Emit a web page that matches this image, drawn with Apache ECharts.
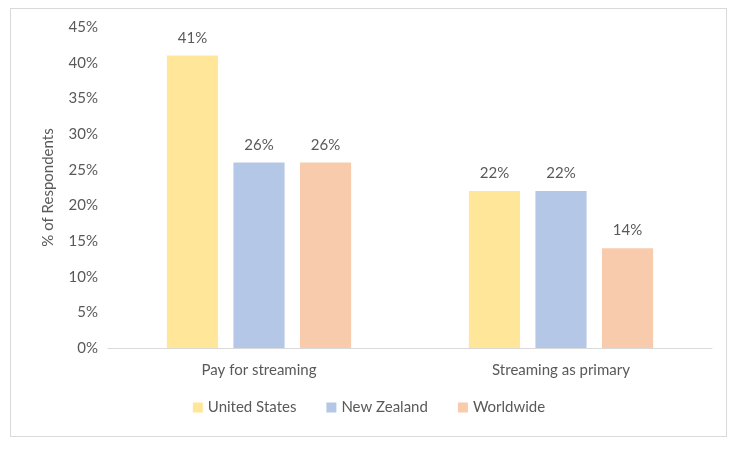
<!DOCTYPE html>
<html><head><meta charset="utf-8">
<script src="https://cdn.jsdelivr.net/npm/echarts@6/dist/echarts.min.js"></script>
<style>
html,body{margin:0;padding:0;background:#fff;}
#frame{position:absolute;left:10px;top:8px;width:717px;height:429px;border:1px solid #d9d9d9;box-sizing:border-box;}
#chart{position:absolute;left:0;top:0;width:738px;height:450px;}
</style></head>
<body><div id="frame"></div><div id="chart"></div>
<script>
const categories = ['Pay for streaming', 'Streaming as primary'];
const unitedStates = [41, 22];
const newZealand = [26, 22];
const worldwide = [26, 14];
const seriesNames = ['United States', 'New Zealand', 'Worldwide'];
const colors = ['#FFE699', '#B4C7E7', '#F8CBAD'];
const FONT = 'Lato';
const FS = 15;
const chart = echarts.init(document.getElementById('chart'));
const lbl = {show:true, position:'top', distance:10, formatter:p=>p.value+'%', color:'#595959', fontSize:FS, fontFamily:FONT};
chart.setOption({
  animation:false,
  color: colors,
  grid:{left:108, right:26, top:27, bottom:102},
  legend:{bottom:30, left:'center', itemWidth:10, itemHeight:10, itemGap:30, icon:'rect',
    textStyle:{color:'#595959', fontSize:FS, fontFamily:FONT}},
  xAxis:{type:'category', data:categories,
    axisLine:{lineStyle:{color:'#d9d9d9'}}, axisTick:{show:false},
    axisLabel:{color:'#595959', fontSize:FS, fontFamily:FONT, margin:15}},
  yAxis:{type:'value', min:0, max:45, interval:5,
    name:'% of Respondents', nameLocation:'middle', nameGap:52, nameRotate:90,
    nameTextStyle:{color:'#595959', fontSize:FS, fontFamily:FONT},
    splitLine:{show:false}, axisLine:{show:false}, axisTick:{show:false},
    axisLabel:{formatter:'{value}%', color:'#595959', fontSize:FS, fontFamily:FONT, margin:10}},
  series:[
    {name:seriesNames[0], type:'bar', data:unitedStates, barGap:'30%', barCategoryGap:'39%', label:lbl},
    {name:seriesNames[1], type:'bar', data:newZealand, label:lbl},
    {name:seriesNames[2], type:'bar', data:worldwide, label:lbl}
  ]
});
</script></body></html>
